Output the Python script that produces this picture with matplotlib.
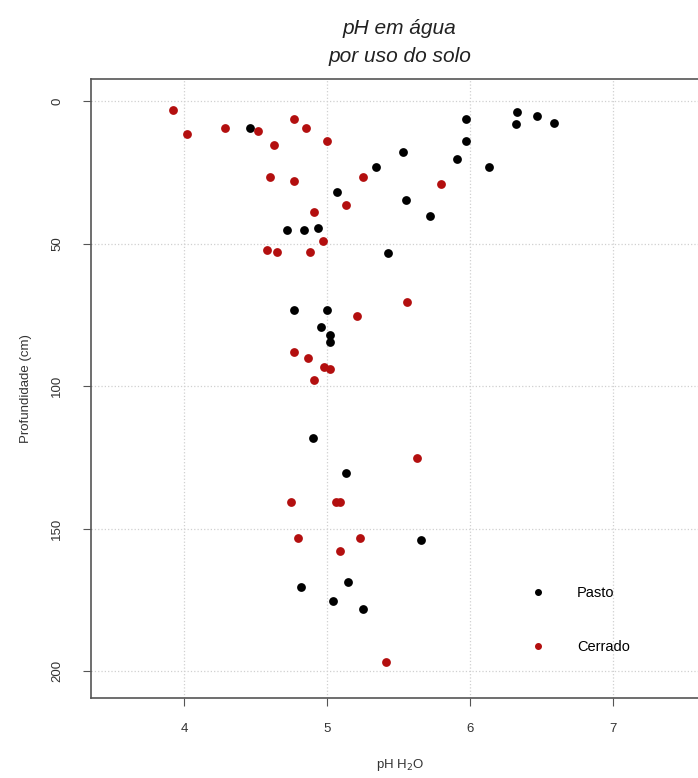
import matplotlib
matplotlib.use("Agg")
import matplotlib.pyplot as plt
from matplotlib.lines import Line2D

plt.rcParams['font.family'] = ['Liberation Sans', 'DejaVu Sans']

# Pasto (black) points: pH and depth (cm)
pasto_ph = [4.46, 5.53, 5.34, 5.07, 5.55, 5.72, 4.72, 4.84, 4.94, 5.43,
            5.97, 6.33, 6.32, 6.47, 6.59, 5.97, 5.91, 6.13,
            4.77, 5.00, 4.96, 5.02, 5.02, 4.90, 5.13,
            5.66, 4.82, 5.15, 5.04, 5.25]
pasto_depth = [9.3, 17.8, 23.2, 32.0, 34.6, 40.4, 45.3, 45.3, 44.4, 53.4,
               6.4, 3.8, 7.9, 5.2, 7.8, 13.9, 20.4, 23.1,
               73.2, 73.2, 79.1, 82.0, 84.7, 118.1, 130.5,
               154.0, 170.5, 168.8, 175.5, 178.1]

# Cerrado (red) points
cerrado_ph = [3.92, 4.02, 4.29, 4.52, 4.77, 4.85, 4.63, 5.00, 4.60, 4.77,
              5.25, 5.80, 5.13, 4.91, 4.97, 4.58, 4.65, 4.88,
              5.56, 5.21, 4.77, 4.87, 4.98, 5.02, 4.91, 5.63,
              4.75, 5.06, 5.09, 4.80, 5.23, 5.09, 5.41]
cerrado_depth = [3.1, 11.5, 9.4, 10.5, 6.4, 9.4, 15.4, 13.9, 26.5, 27.9,
                 26.8, 29.0, 36.5, 39.0, 49.1, 52.4, 53.1, 53.1,
                 70.6, 75.4, 88.0, 90.2, 93.2, 93.9, 97.9, 125.1,
                 140.7, 140.7, 140.7, 153.3, 153.3, 157.9, 196.6]

x_ticks = [4, 5, 6, 7]
y_ticks = [0, 50, 100, 150, 200]

fig = plt.figure(figsize=(6.98, 7.78), dpi=100)
ax = fig.add_axes([0.1304, 0.1028, 0.885, 0.7956])

red = '#b30f0f'
ax.scatter(pasto_ph, pasto_depth, s=40, color='black', zorder=3, linewidths=0)
ax.scatter(cerrado_ph, cerrado_depth, s=40, color=red, zorder=3, linewidths=0)

ax.set_xlim(3.35, 7.67)
ax.set_ylim(209.4, -7.7)
ax.set_xticks(x_ticks)
ax.set_yticks(y_ticks)
ax.tick_params(axis='both', direction='out', length=6, color='#555555',
               labelsize=9.5, labelcolor='#333333')
ax.tick_params(axis='x', pad=12)
ax.tick_params(axis='y', pad=14)
for lbl in ax.get_yticklabels():
    lbl.set_rotation(90)
    lbl.set_va('center')

ax.grid(True, linestyle=':', color='#d0d0d0', linewidth=0.9, zorder=0)
ax.set_axisbelow(True)
for side in ['left', 'bottom', 'top', 'right']:
    ax.spines[side].set_color('#555555')
    ax.spines[side].set_linewidth(1.2)

ax.set_xlabel('pH H$_2$O', fontsize=9.5, color='#333333', labelpad=16)
ax.set_ylabel('Profundidade (cm)', fontsize=9.5, color='#333333', labelpad=14)
ax.set_title('pH em água\npor uso do solo', fontsize=15, style='italic',
             color='#222222', pad=12, linespacing=1.6)

handles = [Line2D([], [], marker='o', linestyle='', color='black', markersize=4),
           Line2D([], [], marker='o', linestyle='', color=red, markersize=4)]
ax.legend(handles, ['Pasto', 'Cerrado'], loc='lower left',
          bbox_to_anchor=(0.69, 0.05), frameon=False, fontsize=10.5,
          labelspacing=2.73, handletextpad=2.2, handlelength=1.0)

fig.savefig('out.png', dpi=100)
